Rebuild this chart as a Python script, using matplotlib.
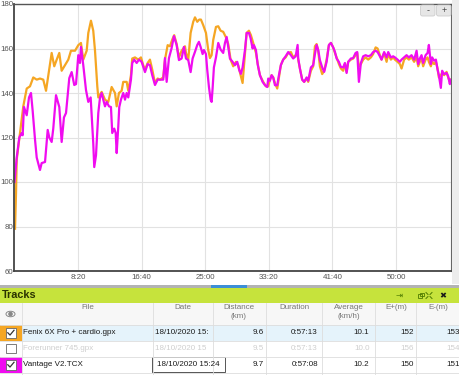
import numpy as np
import matplotlib
matplotlib.use("Agg")
import matplotlib.pyplot as plt
from matplotlib.patches import Rectangle, FancyBboxPatch, Ellipse, Circle

plt.rcParams['font.family'] = ['Liberation Sans', 'DejaVu Sans']

# heart rate traces (time in minutes, bpm)
fenix_min = [0.07, 0.20, 0.29, 0.72, 1.15, 1.60, 2.03, 2.46, 2.91, 3.34, 3.77, 4.13, 4.43, 4.87,
             5.21, 5.53, 5.87, 6.18, 6.62, 7.05, 7.40, 7.93, 8.36, 8.71, 9.01, 9.46, 9.67, 10.02,
             10.32, 10.55, 10.85, 10.98, 11.42, 11.86, 12.29, 12.73, 13.17, 13.39, 13.69, 14.04,
             14.25, 14.70, 14.91, 15.26, 15.43, 15.79, 16.22, 16.57, 16.87, 17.10, 17.45, 17.75,
             18.05, 18.41, 18.76, 19.06, 19.49, 19.72, 20.07, 20.37, 20.67, 20.93, 21.25, 21.55,
             21.90, 22.34, 22.47, 22.77, 23.08, 23.42, 23.65, 23.95, 24.21, 24.43, 24.73, 25.09,
             25.39, 25.61, 25.83, 26.04, 26.40, 26.70, 27.01, 27.35, 27.71, 28.01, 28.32, 28.66,
             29.02, 29.32, 29.63, 29.89, 30.20, 30.42, 30.72, 30.98, 31.28, 31.64, 31.94, 32.16,
             32.59, 32.95, 33.25, 33.47, 33.69, 33.90, 34.13, 34.43, 34.65, 34.91, 35.21, 35.53,
             35.87, 36.22, 36.52, 36.84, 37.10, 37.18, 37.40, 37.70, 37.96, 38.28, 38.49, 38.84,
             39.14, 39.37, 39.59, 39.80, 40.02, 40.32, 40.58, 40.90, 41.20, 41.46, 41.76, 41.99,
             42.21, 42.51, 42.77, 43.07, 43.30, 43.52, 43.73, 44.08, 44.38, 44.70, 44.91, 45.13,
             45.39, 45.69, 46.01, 46.35, 46.70, 47.00, 47.32, 47.58, 47.88, 48.10, 48.44, 48.76,
             48.97, 49.32, 49.62, 49.85, 50.20, 50.50, 50.72, 51.06, 51.38, 51.68, 52.03, 52.37,
             52.69, 52.90, 53.12, 53.34, 53.55, 53.87, 54.13, 54.30, 54.56, 54.73, 54.99, 55.22,
             55.44, 55.61, 55.87, 56.04, 56.30, 56.62, 56.83, 57.05, 57.20]
fenix_hr = [79, 95, 110, 122, 134, 142, 143, 147, 146, 146.5, 146, 141, 148, 158,
            152, 155, 158, 150, 152.5, 155, 159, 159, 161.5, 162.5, 155, 159, 167, 172.5,
            168, 159, 143, 138, 140.5, 137, 136, 142.7, 140, 134, 140, 141,
            145, 145, 141, 148, 155.5, 156, 155, 156, 152.5, 150.5, 153.5, 155,
            150.5, 144.5, 146.5, 146, 147, 155, 161.5, 161, 164, 166, 162, 156,
            159, 161, 158, 155, 167, 172, 174, 172, 173, 173, 170.5, 167,
            159.3, 155.7, 157, 163.8, 169.7, 170, 168, 167.5, 165, 162, 155, 152,
            154, 152.5, 148, 144.5, 157.5, 167, 168, 166, 162.5, 158, 151.7, 148,
            145, 143, 143, 146, 148, 147, 144.5, 142, 147, 152.6, 155, 156,
            158, 158.4, 156, 157, 157, 155, 151, 146, 145, 146.5, 145, 150,
            152, 161, 162, 159, 152, 148.5, 150, 155, 161.5, 162.5, 160.5, 158,
            156, 153, 151, 150, 153, 149.5, 154, 155, 155.5, 157, 158, 152,
            153, 155, 156, 155, 156, 157.5, 160.5, 160, 157, 155, 158, 154,
            157.5, 155, 156, 155, 154, 153, 151, 155, 156, 155, 156, 154,
            156, 152, 154, 155.5, 152, 155, 156, 154, 152, 154, 153, 154,
            151, 147, 148, 149, 148, 149.5, 147, 145, 146]

vantage_min = [0.00, 0.29, 0.63, 0.94, 1.07, 1.24, 1.41, 1.60, 1.90, 2.16, 2.38, 2.69, 2.91, 3.34,
               3.56, 4.00, 4.35, 4.56, 4.87, 5.08, 5.44, 5.87, 6.18, 6.48, 6.75, 7.18, 7.49, 7.83,
               8.06, 8.36, 8.58, 8.71, 9.01, 9.37, 9.67, 9.98, 10.32, 10.45, 10.68, 10.98, 11.20,
               11.42, 11.63, 11.86, 12.08, 12.38, 12.64, 12.81, 13.07, 13.26, 13.39, 13.60, 13.73,
               13.95, 14.25, 14.48, 14.70, 14.91, 15.26, 15.43, 15.69, 16.01, 16.31, 16.66, 17.10,
               17.45, 17.75, 18.05, 18.41, 18.76, 19.06, 19.49, 19.72, 19.94, 20.24, 20.59, 20.89,
               21.25, 21.55, 21.90, 22.20, 22.47, 22.77, 23.08, 23.34, 23.65, 23.95, 24.17, 24.39,
               24.65, 24.82, 25.09, 25.26, 25.48, 25.70, 25.83, 25.96, 26.13, 26.40, 26.70, 27.01,
               27.35, 27.58, 27.80, 28.01, 28.23, 28.58, 28.89, 29.19, 29.45, 29.67, 29.89, 30.20,
               30.42, 30.72, 30.94, 31.20, 31.37, 31.64, 31.86, 32.16, 32.51, 32.82, 33.12, 33.25,
               33.47, 33.69, 33.90, 34.13, 34.43, 34.65, 34.91, 35.21, 35.53, 35.87, 36.22, 36.52,
               36.84, 37.10, 37.18, 37.40, 37.70, 37.96, 38.28, 38.49, 38.84, 39.14, 39.37, 39.59,
               39.80, 40.02, 40.32, 40.58, 40.90, 41.20, 41.46, 41.76, 41.99, 42.21, 42.51, 42.77,
               43.07, 43.30, 43.52, 43.73, 44.08, 44.38, 44.70, 44.91, 45.13, 45.39, 45.69, 46.01,
               46.35, 46.70, 47.00, 47.32, 47.58, 47.88, 48.10, 48.44, 48.76, 48.97, 49.32, 49.62,
               49.85, 50.20, 50.50, 50.72, 51.06, 51.38, 51.68, 52.03, 52.37, 52.69, 52.90, 53.12,
               53.34, 53.55, 53.87, 54.13, 54.30, 54.56, 54.73, 54.99, 55.22, 55.44, 55.61, 55.87,
               56.04, 56.30, 56.62, 56.83, 57.05, 57.13]
vantage_hr = [100, 111, 120, 122, 121, 133.7, 132, 130, 138, 140, 132, 119, 111, 105.4,
              108.5, 109, 123.4, 120, 118, 124, 139, 133.7, 118, 129, 131, 146.7, 149.4, 143.6,
              144, 157, 153.5, 160.7, 152.6, 141.3, 136, 138, 117.5, 106.7, 112, 131, 137.8,
              140, 137, 134, 136, 134, 133.7, 122, 124, 122, 113, 125, 133.7,
              137, 140, 137, 140, 138, 146, 153.5, 155, 153.5, 155, 154, 149.4,
              153, 152.5, 148, 143.6, 146, 146, 146, 155.7, 145, 155.7, 160.2, 165.6,
              161.5, 154.8, 155.5, 160.7, 155.5, 154.8, 149.4, 155.5, 158.5, 161.6, 163, 160.7,
              157.5, 159.3, 157.5, 150.3, 142.7, 137, 136, 142, 151.5, 156, 162.5, 159.5,
              158, 162.5, 165.2, 160.7, 155.5, 154, 152.5, 154, 150.3, 148.6, 151.5, 159.3,
              167, 167, 164.6, 160, 161.5, 159.3, 153, 148, 145, 143.5, 142.7, 146.5,
              145.5, 148, 147, 143.5, 143.5, 148, 152.6, 155, 156.5, 158.4, 157, 155.5,
              156.5, 161.6, 155.5, 151, 146, 145, 147, 145.5, 151.5, 152.5, 157.5, 161.6,
              159.3, 154.8, 151.5, 149.5, 154, 161.6, 162.5, 160.5, 158.5, 155.5, 154, 151.7,
              151.5, 153.5, 149, 154, 155.5, 155.7, 158, 158.4, 145, 153.5, 156.5, 157,
              156.5, 157, 158.4, 159, 158.4, 156.5, 155, 158.4, 156, 158.4, 156, 156.5,
              156, 155, 154, 155, 156, 157, 156, 157, 155, 159, 153, 155.5,
              157, 153.5, 157, 158, 161.6, 153, 156, 154.5, 155, 150.5, 148, 142.3,
              150, 148.5, 149, 147.5, 144, 146]

y_ticks = [60, 80, 100, 120, 140, 160, 180]
x_ticks_s = [500, 1000, 1500, 2000, 2500, 3000]

# tracks table
track_files = ["Fenix 6X Pro + cardio.gpx", "Forerunner 745.gpx", "Vantage V2.TCX"]
track_dates = ["18/10/2020 15:", "18/10/2020 15", ""]
track_dist = ["9.6", "9.5", "9.7"]
track_dur = ["0:57:13", "0:57:13", "0:57:08"]
track_avg = ["10.1", "10.0", "10.2"]
track_eplus = ["152", "156", "150"]
track_eminus = ["153", "154", "151"]
track_colors = ['#f5a623', None, '#f00cf0']
tooltip_text = "18/10/2020 15:24"

orange = '#f5a623'
magenta = '#f00cf0'

fig = plt.figure(figsize=(4.6, 3.75), dpi=100)
fig.patch.set_facecolor('white')

W, H = 460, 375
ax = fig.add_axes([14.5 / W, 1 - 271 / H, (451 - 14.5) / W, 267 / H])

ax.plot(np.array(fenix_min) * 60, fenix_hr, color=orange, lw=1.6, solid_joinstyle='round')
ax.plot(np.array(vantage_min) * 60, vantage_hr, color=magenta, lw=1.6, solid_joinstyle='round')

ax.set_xlim(0, 57.2 * 60)
ax.set_ylim(60, 180)
ax.set_xticks(x_ticks_s)
ax.set_xticklabels([f"{s // 60}:{s % 60:02d}" for s in x_ticks_s])
ax.set_yticks(y_ticks)
ax.grid(True, color='#e2e2e2', lw=0.8)
ax.set_axisbelow(True)
ax.tick_params(length=0, labelsize=5.7, colors='#555555')
ax.tick_params(axis='y', pad=0.6)
ax.tick_params(axis='x', pad=2.5)
for side in ['left', 'bottom']:
    ax.spines[side].set_color('#444444')
    ax.spines[side].set_linewidth(1.3)
ax.spines['top'].set_color('#555555')
ax.spines['top'].set_linewidth(1.0)
ax.spines['right'].set_color('#666666')
ax.spines['right'].set_linewidth(0.8)

# overlay in pixel units for the page widgets
ov = fig.add_axes([0, 0, 1, 1], zorder=5)
ov.set_xlim(0, W)
ov.set_ylim(H, 0)
ov.axis('off')
ov.patch.set_alpha(0)

ov.add_patch(Rectangle((452, 0), 8, 284, color='#ececec', lw=0))

# zoom buttons
for x0, sym in [(420.5, '-'), (436.5, '+')]:
    ov.add_patch(FancyBboxPatch((x0, 5), 14.5, 11, boxstyle='round,pad=0,rounding_size=2',
                                fc='#e6e6e6', ec='#cccccc', lw=0.6))
    ov.text(x0 + 7.2, 10.5, sym, ha='center', va='center', fontsize=6.5, color='#444444')

# time scrollbar
ov.add_patch(Rectangle((0, 284.5), W, 3, color='#b3b3b3', lw=0))
ov.add_patch(Rectangle((211, 284.5), 36, 3, color='#3d8fd6', lw=0))

# Tracks header
ov.add_patch(Rectangle((0, 287.5), W, 15.5, color='#c6e33c', lw=0))
ov.text(2, 295.5, "Tracks", ha='left', va='center', fontsize=7.8, fontweight='bold', color='#2a3300')
ov.text(399.5, 295.5, "⇥", ha='center', va='center', fontsize=6, color='#4d7a00', family='DejaVu Sans')
ov.add_patch(Rectangle((418.5, 294), 4, 3.5, fill=False, ec='#4d7a00', lw=0.6))
ov.add_patch(Rectangle((420, 292.5), 4, 3.5, fill=False, ec='#4d7a00', lw=0.6))
# expand icon: four small corner strokes
for dx, dy in [(-1, -1), (1, -1), (-1, 1), (1, 1)]:
    ov.plot([429 + dx * 1.0, 429 + dx * 3.0], [295.5 + dy * 1.0, 295.5 + dy * 3.0],
            color='#4d7a00', lw=0.7)
ov.text(443, 295.5, "✖", ha='center', va='center', fontsize=6, color='#1a1a1a', family='DejaVu Sans')

# table header
ov.add_patch(Rectangle((0, 303), W, 22, color='#f7f7f7', lw=0))
col_seps = [21.7, 152.7, 213, 266, 322, 375, 416]
headers = [(88, "File"), (182.5, "Date"), (239, "Distance\n(km)"), (294, "Duration"),
           (348.5, "Average\n(km/h)"), (396, "E+(m)"), (438, "E-(m)")]
for xc, txt in headers:
    ov.text(xc, 304, txt, ha='center', va='top', fontsize=5.8, color='#777777', linespacing=1.45)
ov.add_patch(Ellipse((10.5, 314), 9, 5.5, fill=False, ec='#888888', lw=0.7))
ov.add_patch(Circle((10.5, 314), 1.6, color='#888888'))

row_top = [325, 340.5, 356.5]
row_h = [15.5, 16, 16.5]
ov.add_patch(Rectangle((21.7, 325), W - 21.7, 15.5, color='#e5f3fb', lw=0))
for i in range(3):
    yt = row_top[i]
    yc = yt + row_h[i] / 2
    if track_colors[i]:
        ov.add_patch(Rectangle((0, yt), 21.7, row_h[i], color=track_colors[i], lw=0))
    ov.add_patch(Rectangle((6, yc - 4.8), 9.6, 9.6, fc='white', ec='#666666', lw=0.6))
    if track_colors[i]:
        ov.plot([7.8, 10, 14], [yc, yc + 2.3, yc - 2.5], color='#333333', lw=0.9)
    tc = '#cfcfcf' if track_colors[i] is None else '#1a1a1a'
    ov.text(23.5, yc, track_files[i], ha='left', va='center', fontsize=5.8, color=tc)
    ov.text(155, yc, track_dates[i], ha='left', va='center', fontsize=5.8, color=tc)
    for xr, vals in [(264, track_dist), (318, track_dur), (369.5, track_avg),
                     (413.5, track_eplus), (459.5, track_eminus)]:
        ov.text(xr, yc, vals[i], ha='right', va='center', fontsize=5.8, color=tc)

for y in [325, 340.5, 356.5, 373]:
    ov.plot([0, W], [y, y], color='#dddddd', lw=0.6)
for x in col_seps:
    ov.plot([x, x], [303, 375], color='#dddddd', lw=0.6)

# tooltip over the last date cell
ov.add_patch(Rectangle((152.5, 357), 72.5, 15, fc='white', ec='#555555', lw=0.7))
ov.text(157, 364.5, tooltip_text, ha='left', va='center', fontsize=5.8, color='#1a1a1a')

fig.savefig("out.png", dpi=100)
